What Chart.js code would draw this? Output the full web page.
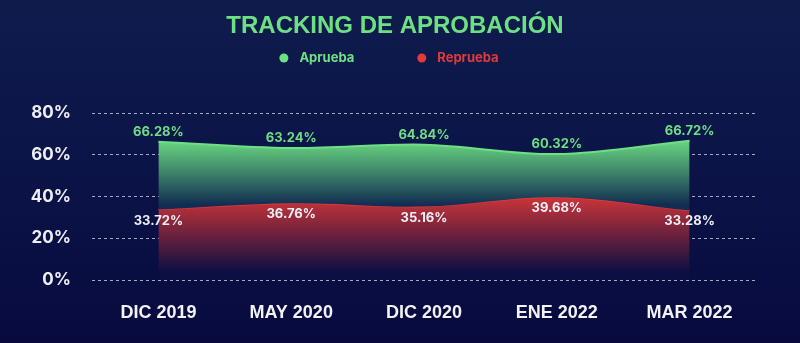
<!DOCTYPE html>
<html>
<head>
<meta charset="utf-8">
<style>
  html, body { margin: 0; padding: 0; }
  body {
    width: 800px; height: 343px; overflow: hidden;
    background: linear-gradient(180deg, #0e1c4c 0%, #0b1346 55%, #080a3e 100%);
  }
  #wrap { position: relative; width: 800px; height: 343px; }
</style>
</head>
<body>
<div id="wrap"><canvas id="tracking"></canvas></div>

<script src="https://cdn.jsdelivr.net/npm/chart.js@4.4.1/dist/chart.umd.min.js"></script>
<script>
  // Datos del gráfico
  var categorias = ["DIC 2019", "MAY 2020", "DIC 2020", "ENE 2022", "MAR 2022"];
  var aprueba = [66.28, 63.24, 64.84, 60.32, 66.72];
  var reprueba = [33.72, 36.76, 35.16, 39.68, 33.28];
  var ticksY = [0, 20, 40, 60, 80];

  var titulo = "TRACKING DE APROBACIÓN";
  var verde = "#6ee084";
  var rojo = "#e03a3a";

  // Degradado vertical entre dos valores del eje Y
  function degradado(ctx, v1, v2, c1, c2){
    var chart = ctx.chart;
    if(!chart.chartArea) return c1;
    var y = chart.scales.y;
    var g = chart.ctx.createLinearGradient(0, y.getPixelForValue(v1), 0, y.getPixelForValue(v2));
    g.addColorStop(0, c1);
    g.addColorStop(1, c2);
    return g;
  }

  // Título y leyenda dibujados arriba
  var cabecera = {
    id: "cabecera",
    afterDraw: function(chart){
      var ctx = chart.ctx;
      ctx.save();
      ctx.textBaseline = "middle";
      ctx.textAlign = "center";
      ctx.fillStyle = verde;
      ctx.font = "bold 24px 'Liberation Sans', Arial, sans-serif";
      ctx.fillText(titulo, 395, 26);

      // Leyenda
      ctx.font = "bold 13px Inter, 'Liberation Sans', sans-serif";
      ctx.textAlign = "left";
      var items = chart.data.datasets.map(function(ds){
        return { text: ds.label, color: ds.borderColor, w: 20 + ctx.measureText(ds.label).width };
      });
      var gap = 63;
      var total = items.reduce(function(s, it){ return s + it.w; }, 0) + gap * (items.length - 1);
      var x = 389 - total / 2;
      items.forEach(function(it){
        ctx.fillStyle = it.color;
        ctx.beginPath();
        ctx.arc(x + 4.5, 58, 4.5, 0, Math.PI * 2);
        ctx.fill();
        ctx.fillText(it.text, x + 20, 58);
        x += it.w + gap;
      });
      ctx.restore();
    }
  };

  // Etiquetas de valores sobre los puntos
  var etiquetas = {
    id: "etiquetas",
    afterDatasetsDraw: function(chart){
      var ctx = chart.ctx;
      ctx.save();
      ctx.font = "bold 13px Inter, 'Liberation Sans', sans-serif";
      ctx.textAlign = "center";
      ctx.textBaseline = "middle";
      chart.data.datasets.forEach(function(ds, i){
        var meta = chart.getDatasetMeta(i);
        ctx.fillStyle = ds.labelColor;
        meta.data.forEach(function(pt, j){
          ctx.fillText(ds.data[j].toFixed(2) + "%", pt.x, pt.y + ds.labelOffset);
        });
      });
      ctx.restore();
    }
  };

  var chart = new Chart(document.getElementById("tracking"), {
    type: "line",
    data: {
      labels: categorias,
      datasets: [{
        label: "Aprueba",
        data: aprueba,
        borderColor: verde,
        borderWidth: 2,
        tension: 0.35,
        pointRadius: 0,
        fill: "+1",
        backgroundColor: function(ctx){
          return degradado(ctx, 67, 36, "rgba(108,222,130,0.97)", "rgba(17,45,82,1)");
        },
        labelColor: "#6fdd86",
        labelOffset: -10
      }, {
        label: "Reprueba",
        data: reprueba,
        borderColor: rojo,
        borderWidth: 1.5,
        tension: 0.35,
        pointRadius: 0,
        fill: "origin",
        backgroundColor: function(ctx){
          return degradado(ctx, 40, 4, "rgba(205,52,56,1)", "rgba(12,15,66,1)");
        },
        labelColor: "#eeeef5",
        labelOffset: 11
      }]
    },
    options: {
      responsive: true,
      maintainAspectRatio: false,
      animation: false,
      layout: {
        padding: { top: 113, right: 44, bottom: 0, left: 0 }
      },
      plugins: {
        legend: { display: false },
        title: { display: false },
        tooltip: { enabled: false }
      },
      scales: {
        x: {
          offset: true,
          afterFit: function(scale){ scale.height = 63; },
          grid: { display: false, drawTicks: false },
          border: { display: false },
          ticks: {
            color: "#f2f2f7",
            padding: 22,
            maxRotation: 0,
            font: { family: "'Liberation Sans', Arial, sans-serif", size: 18, weight: "bold" }
          }
        },
        y: {
          min: ticksY[0],
          max: ticksY[ticksY.length - 1],
          afterFit: function(scale){ scale.width = 92; },
          afterBuildTicks: function(scale){
            scale.ticks = ticksY.map(function(v){ return { value: v }; });
          },
          grid: { color: "rgba(205,208,225,0.8)", lineWidth: 1, drawTicks: false },
          border: { display: false, dash: [3, 3] },
          ticks: {
            color: "#eeeef5",
            padding: 21,
            font: { family: "Inter, 'Liberation Sans', sans-serif", size: 17, weight: "bold" },
            callback: function(v){ return v + "%"; }
          }
        }
      }
    },
    plugins: [cabecera, etiquetas]
  });
</script>
</body>
</html>
